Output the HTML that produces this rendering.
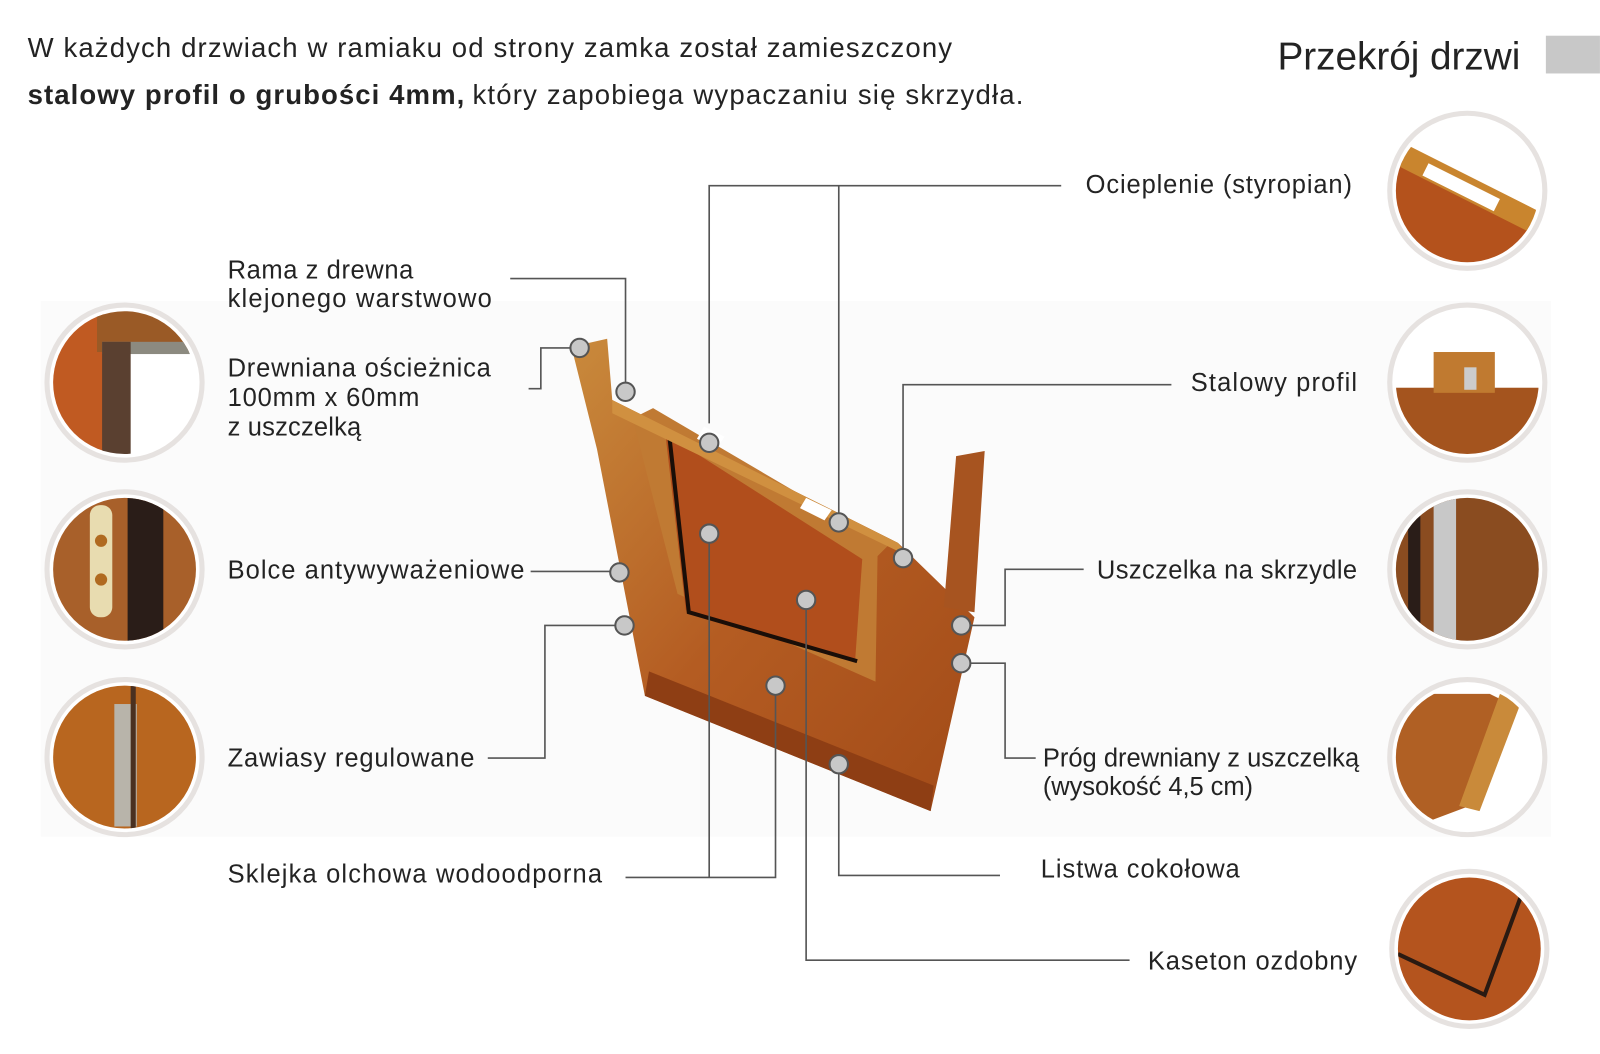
<!DOCTYPE html>
<html><head><meta charset="utf-8"><style>
html,body{margin:0;padding:0;background:#fff;width:1600px;height:1054px;overflow:hidden}
svg{display:block}
text{font-family:"Liberation Sans","DejaVu Sans",sans-serif;fill:#232323}
</style></head><body>
<svg width="1600" height="1054" viewBox="0 0 1568 1033" xmlns="http://www.w3.org/2000/svg">
<defs>
<linearGradient id="w" x1="0" y1="0" x2="1" y2="1"><stop offset="0" stop-color="#c97a2c"/><stop offset=".5" stop-color="#b0521d"/><stop offset="1" stop-color="#8f3d12"/></linearGradient>
<linearGradient id="d" x1="0" y1="0" x2="1" y2="1"><stop offset="0" stop-color="#c98a3c"/><stop offset=".5" stop-color="#b45c22"/><stop offset="1" stop-color="#a24b18"/></linearGradient>
</defs>
<rect x="40" y="295" width="1480" height="525" fill="#fbfbfb"/>
<text x="27" y="56" font-size="27" textLength="906">W każdych drzwiach w ramiaku od strony zamka został zamieszczony</text>
<text x="27" y="102" font-size="27" font-weight="bold" textLength="428">stalowy profil o grubości 4mm,</text>
<text x="463" y="102" font-size="27" textLength="540">który zapobiega wypaczaniu się skrzydła.</text>
<text x="1252" y="68" font-size="38" textLength="238">Przekrój drzwi</text>
<rect x="1515" y="35" width="53" height="37" fill="#c8c8c8"/>

<!-- circles -->
<g stroke="#e6e2e0" stroke-width="5">
<circle cx="122" cy="375" r="76" fill="#fff"/><circle cx="122" cy="558" r="76" fill="#fff"/><circle cx="122" cy="742" r="76" fill="#fff"/>
<circle cx="1438" cy="187" r="76" fill="#fff"/><circle cx="1438" cy="375" r="76" fill="#fff"/><circle cx="1438" cy="558" r="76" fill="#fff"/><circle cx="1438" cy="742" r="76" fill="#fff"/><circle cx="1440" cy="930" r="76" fill="#fff"/>
</g>
<clipPath id="c1"><circle cx="122" cy="375" r="70"/></clipPath>
<g clip-path="url(#c1)"><rect x="50" y="300" width="150" height="150" fill="#fff"/><rect x="50" y="300" width="52" height="150" fill="#c05a22"/><rect x="95" y="300" width="110" height="45" fill="#9a5a26"/><rect x="100" y="335" width="100" height="12" fill="#8c8a80"/><rect x="100" y="335" width="28" height="120" fill="#5a4030"/></g>
<clipPath id="c2"><circle cx="122" cy="558" r="70"/></clipPath>
<g clip-path="url(#c2)"><rect x="50" y="480" width="150" height="160" fill="#a8602a"/><rect x="125" y="480" width="35" height="160" fill="#2a1d18"/><rect x="88" y="495" width="22" height="110" rx="10" fill="#e8dcb0"/><circle cx="99" cy="530" r="6" fill="#b06a20"/><circle cx="99" cy="568" r="6" fill="#b06a20"/></g>
<clipPath id="c3"><circle cx="122" cy="742" r="70"/></clipPath>
<g clip-path="url(#c3)"><rect x="50" y="665" width="150" height="160" fill="#b8661f"/><rect x="112" y="690" width="22" height="120" fill="#b8b4aa"/><rect x="128" y="665" width="5" height="160" fill="#4a3020"/></g>
<clipPath id="c4"><circle cx="1438" cy="187" r="70"/></clipPath>
<g clip-path="url(#c4)"><rect x="1360" y="110" width="160" height="160" fill="#fff"/><polygon points="1360,150 1520,230 1520,270 1360,270" fill="#b4521c"/><polygon points="1375,140 1510,208 1500,228 1365,160" fill="#c9852e"/><polygon points="1400,160 1470,195 1464,207 1394,172" fill="#fff"/></g>
<clipPath id="c5"><circle cx="1438" cy="375" r="70"/></clipPath>
<g clip-path="url(#c5)"><rect x="1360" y="300" width="160" height="160" fill="#fff"/><rect x="1360" y="380" width="160" height="80" fill="#a4541e"/><rect x="1405" y="345" width="60" height="40" fill="#c07a30"/><rect x="1435" y="360" width="12" height="22" fill="#ccc"/></g>
<clipPath id="c6"><circle cx="1438" cy="558" r="70"/></clipPath>
<g clip-path="url(#c6)"><rect x="1360" y="480" width="160" height="160" fill="#8a4c20"/><rect x="1405" y="480" width="22" height="160" fill="#c8c8c8"/><rect x="1380" y="480" width="12" height="160" fill="#2a1d18"/></g>
<clipPath id="c7"><circle cx="1438" cy="742" r="70"/></clipPath>
<g clip-path="url(#c7)"><rect x="1360" y="665" width="160" height="160" fill="#fff"/><polygon points="1360,680 1460,680 1480,690 1440,790 1360,820" fill="#b06024"/><polygon points="1470,680 1490,690 1450,795 1430,790" fill="#c98a3a"/></g>
<clipPath id="c8"><circle cx="1440" cy="930" r="70"/></clipPath>
<g clip-path="url(#c8)"><rect x="1360" y="855" width="160" height="160" fill="#b4541e"/><polyline points="1370,935 1455,975 1490,880" fill="none" stroke="#2a1a12" stroke-width="4"/></g>

<!-- door -->
<polygon points="560,340 595,332 600,392 880,532 955,605 912,795 632,682 585,440" fill="url(#d)"/>
<polygon points="632,682 912,795 915,770 636,658" fill="#8e3e14"/>
<polygon points="937,447 965,442 955,600 925,595" fill="#a75420"/>
<polygon points="620,410 640,400 870,535 860,545 858,668 664,582" fill="#c07a33"/>
<polygon points="652,425 845,548 838,648 672,598" fill="#b14e1c"/>
<polyline points="656,428 675,600 840,648" fill="none" stroke="#1a0e08" stroke-width="4"/>
<polygon points="600,392 880,532 890,545 600,405" fill="#d09040"/>
<polygon points="690,418 710,428 702,440 683,430" fill="#fff"/>
<polygon points="790,488 815,500 808,510 784,498" fill="#fff"/>

<!-- lines -->
<g fill="none" stroke="#555" stroke-width="1.6">
<polyline points="695,415 695,182 1040,182"/><polyline points="822,505 822,182"/>
<polyline points="500,273 613,273 613,375"/>
<polyline points="518,381 530,381 530,341 560,341"/>
<polyline points="1148,377 885,377 885,540"/>
<polyline points="520,560 600,560"/>
<polyline points="1062,558 985,558 985,613 950,613"/>
<polyline points="478,743 534,743 534,613 604,613"/>
<polyline points="1015,743 985,743 985,650 950,650"/>
<polyline points="613,860 760,860 760,672"/><polyline points="695,523 695,860"/>
<polyline points="980,858 822,858 822,750"/>
<polyline points="1107,941 790,941 790,588"/>
</g>
<g fill="#c8c8c8" stroke="#555" stroke-width="2">
<circle cx="568" cy="341" r="9"/><circle cx="613" cy="384" r="9"/><circle cx="695" cy="434" r="9"/><circle cx="822" cy="512" r="9"/><circle cx="885" cy="547" r="9"/><circle cx="607" cy="561" r="9"/><circle cx="612" cy="613" r="9"/><circle cx="695" cy="523" r="9"/><circle cx="790" cy="588" r="9"/><circle cx="760" cy="672" r="9"/><circle cx="822" cy="749" r="9"/><circle cx="942" cy="613" r="9"/><circle cx="942" cy="650" r="9"/>
</g>

<g font-size="25">
<text x="223" y="273" textLength="182">Rama z drewna</text>
<text x="223" y="301" textLength="259">klejonego warstwowo</text>
<text x="223" y="369" textLength="258">Drewniana ościeżnica</text>
<text x="223" y="398" textLength="188">100mm x 60mm</text>
<text x="223" y="427" textLength="131">z uszczelką</text>
<text x="223" y="567" textLength="291">Bolce antywyważeniowe</text>
<text x="223" y="751" textLength="242">Zawiasy regulowane</text>
<text x="223" y="865" textLength="367">Sklejka olchowa wodoodporna</text>
<text x="1064" y="189" textLength="261">Ocieplenie (styropian)</text>
<text x="1167" y="383" textLength="163">Stalowy profil</text>
<text x="1075" y="567" textLength="255">Uszczelka na skrzydle</text>
<text x="1022" y="751" textLength="310">Próg drewniany z uszczelką</text>
<text x="1022" y="779" textLength="206">(wysokość 4,5 cm)</text>
<text x="1020" y="860" textLength="195">Listwa cokołowa</text>
<text x="1125" y="950" textLength="205">Kaseton ozdobny</text>
</g>
</svg>
</body></html>
